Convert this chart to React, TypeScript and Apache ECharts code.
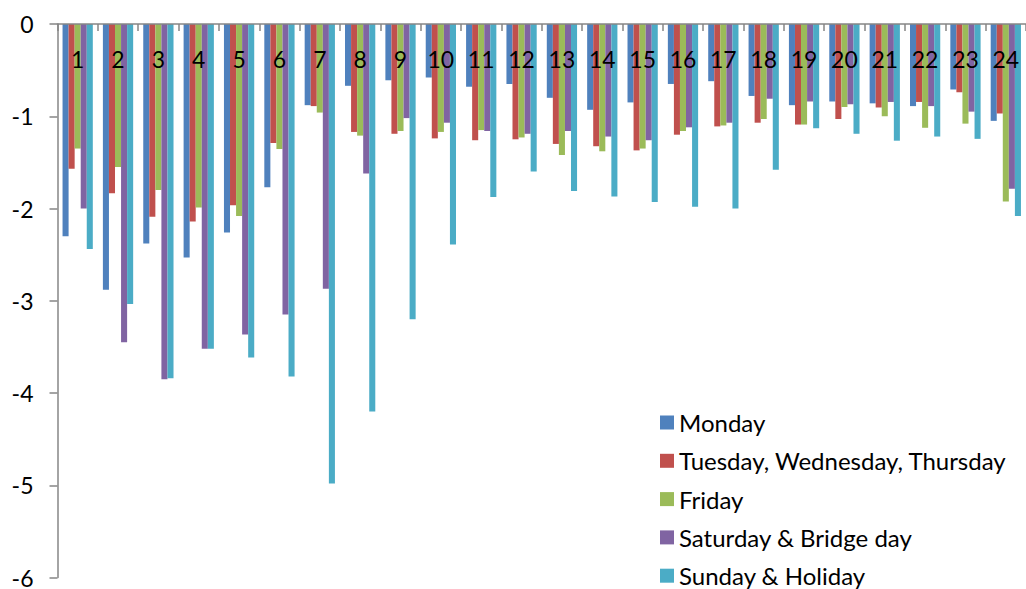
import React, { useEffect, useRef } from "react";
import * as echarts from "echarts";

// Hours of the day
const hours: string[] = Array.from({ length: 24 }, (_, i) => String(i + 1));

const seriesNames: string[] = [
  "Monday",
  "Tuesday, Wednesday, Thursday",
  "Friday",
  "Saturday & Bridge day",
  "Sunday & Holiday",
];

const monday: number[] = [
  -2.3, -2.88, -2.38, -2.53, -2.26, -1.77, -0.88, -0.67, -0.61, -0.58, -0.68, -0.65,
  -0.8, -0.93, -0.85, -0.65, -0.62, -0.78, -0.88, -0.84, -0.86, -0.89, -0.71, -1.05,
];
const tueWedThu: number[] = [
  -1.57, -1.835, -2.09, -2.14, -1.965, -1.29, -0.89, -1.17, -1.19, -1.24, -1.26, -1.25,
  -1.3, -1.325, -1.37, -1.2, -1.11, -1.07, -1.09, -1.03, -0.905, -0.845, -0.74, -0.97,
];
const friday: number[] = [
  -1.35, -1.55, -1.8, -1.99, -2.08, -1.355, -0.96, -1.21, -1.16, -1.17, -1.15, -1.23,
  -1.42, -1.38, -1.35, -1.16, -1.1, -1.03, -1.09, -0.9, -1.0, -1.125, -1.08, -1.925,
];
const saturdayBridge: number[] = [
  -2.0, -3.45, -3.85, -3.52, -3.365, -3.15, -2.87, -1.62, -1.02, -1.07, -1.16, -1.19,
  -1.16, -1.22, -1.26, -1.12, -1.07, -0.81, -0.84, -0.87, -0.845, -0.89, -0.95, -1.785,
];
const sundayHoliday: number[] = [
  -2.44, -3.035, -3.84, -3.52, -3.615, -3.82, -4.98, -4.2, -3.2, -2.39, -1.875, -1.6,
  -1.81, -1.87, -1.93, -1.98, -2.0, -1.58, -1.13, -1.19, -1.265, -1.22, -1.245, -2.08,
];

const yTicks: number[] = [0, -1, -2, -3, -4, -5, -6];

const palette = ["#4F81BD", "#C0504D", "#9BBB59", "#8064A2", "#4BACC6"];
const FONT = "Lato, 'Open Sans', sans-serif";
const AXIS_GREY = "#868686";

export default function App() {
  const ref = useRef<HTMLDivElement>(null);

  useEffect(() => {
    if (!ref.current) return;
    const chart = echarts.init(ref.current, undefined, { renderer: "svg" });
    const values = [monday, tueWedThu, friday, saturdayBridge, sundayHoliday];

    chart.setOption({
      animation: false,
      color: palette,
      textStyle: { fontFamily: FONT },
      grid: { left: 57.5, top: 24, right: -5, bottom: 8, containLabel: false },
      legend: {
        orient: "vertical",
        left: 660,
        top: 410.5,
        padding: 0,
        height: 178,
        itemWidth: 14,
        itemHeight: 14,
        itemGap: 14.3,
        icon: "rect",
        data: seriesNames,
        textStyle: {
          fontFamily: FONT,
          fontSize: 24,
          lineHeight: 24,
          color: "#000",
        },
      },
      xAxis: {
        type: "category",
        position: "top",
        data: hours,
        z: 10,
        axisLine: { show: true, lineStyle: { color: AXIS_GREY, width: 1.5 } },
        axisTick: { show: true, inside: true, length: 7, lineStyle: { color: AXIS_GREY, width: 1.5 } },
        axisLabel: {
          inside: true,
          margin: 23,
          fontSize: 23,
          fontFamily: FONT,
          color: "#000",
          interval: 0,
        },
        splitLine: { show: false },
      },
      yAxis: {
        type: "value",
        min: yTicks[yTicks.length - 1],
        max: yTicks[0],
        interval: 1,
        axisLine: { show: true, lineStyle: { color: AXIS_GREY, width: 1.5 } },
        axisTick: { show: true, length: 8, lineStyle: { color: AXIS_GREY, width: 1.5 } },
        axisLabel: {
          margin: 24,
          fontSize: 23,
          fontFamily: FONT,
          color: "#000",
        },
        splitLine: { show: false },
      },
      series: seriesNames.map((name, i) => ({
        name,
        type: "bar",
        data: values[i],
        barGap: "0%",
        barCategoryGap: "25%",
        itemStyle: { color: palette[i] },
        z: 1,
      })),
    });

    return () => chart.dispose();
  }, []);

  return (
    <div
      ref={ref}
      style={{ position: "absolute", left: 0, top: 0, width: 1026, height: 589, background: "#fff" }}
    />
  );
}
